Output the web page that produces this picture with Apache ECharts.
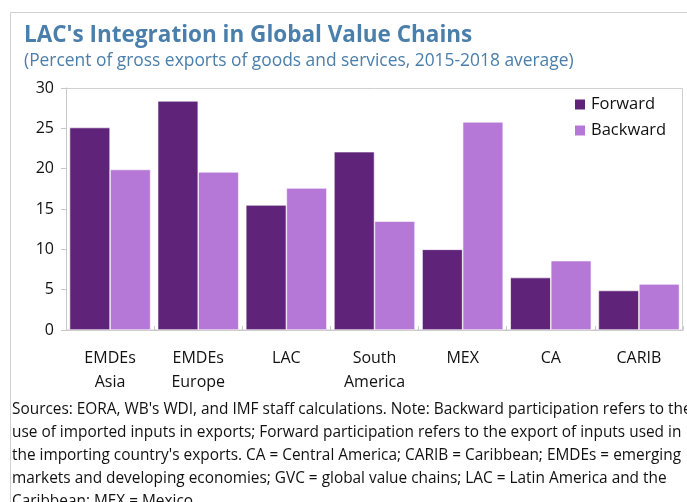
<!DOCTYPE html>
<html>
<head>
<meta charset="utf-8">
<script src="https://cdn.jsdelivr.net/npm/echarts@6/dist/echarts.min.js"></script>
<style>
html,body{margin:0;padding:0;background:#fff;}
#chart{width:687px;height:502px;}
</style>
</head>
<body>
<div id="chart"></div>
<script>
var categories = ['EMDEs\nAsia', 'EMDEs\nEurope', 'LAC', 'South\nAmerica', 'MEX', 'CA', 'CARIB'];
var forward = [25.1, 28.4, 15.5, 22.1, 10.0, 6.5, 4.9];
var backward = [19.9, 19.6, 17.6, 13.5, 25.8, 8.6, 5.7];
var yTicks = [0, 5, 10, 15, 20, 25, 30];
var titleText = "LAC's Integration in Global Value Chains";
var subtitleText = "(Percent of gross exports of goods and services, 2015-2018 average)";
var noteLines = [
  "Sources: EORA, WB's WDI, and IMF staff calculations. Note: Backward participation refers to the",
  "use of imported inputs in exports; Forward participation refers to the export of inputs used in",
  "the importing country's exports. CA = Central America; CARIB = Caribbean; EMDEs = emerging",
  "markets and developing economies; GVC = global value chains; LAC = Latin America and the",
  "Caribbean; MEX = Mexico."
];

var FONT = '"Open Sans", sans-serif';
var chart = echarts.init(document.getElementById('chart'), null, {renderer: 'canvas'});

var graphics = [
  {type: 'rect', shape: {x: 10.5, y: 12.5, width: 700, height: 520}, style: {fill: 'none', stroke: '#d0d0d0', lineWidth: 1}, silent: true},
  {type: 'rect', shape: {x: 66.5, y: 88.5, width: 616, height: 241.5}, style: {fill: 'none', stroke: '#d0d0d0', lineWidth: 1}, silent: true, z: 0}
];
noteLines.forEach(function (t, i) {
  graphics.push({
    type: 'text', left: 12, top: 402 + i * 23,
    style: {text: t, font: '15.4px ' + FONT, fill: '#111'}
  });
});

chart.setOption({
  animation: false,
  backgroundColor: '#fff',
  title: [
    {text: titleText, left: 19, top: 19, textStyle: {fontFamily: FONT, fontSize: 22.5, fontWeight: 'bold', color: '#4a7eab'}},
    {text: subtitleText, left: 19, top: 48, textStyle: {fontFamily: FONT, fontSize: 17.4, fontWeight: 'normal', color: '#4a7eab'}}
  ],
  legend: {
    data: ['Forward', 'Backward'],
    orient: 'vertical',
    left: 568, top: 91,
    itemWidth: 12, itemHeight: 12, itemGap: 9,
    icon: 'rect',
    textStyle: {fontFamily: FONT, fontSize: 16.5, color: '#111'}
  },
  grid: {left: 66, top: 88, right: 4, bottom: 172, containLabel: false},
  xAxis: {
    type: 'category',
    data: categories,
    axisLine: {show: true, lineStyle: {color: '#c8c8c8'}},
    axisTick: {show: true, inside: true, length: 4, lineStyle: {color: '#c8c8c8'}},
    axisLabel: {fontFamily: FONT, fontSize: 16, color: '#111', margin: 17, lineHeight: 23.5}
  },
  yAxis: {
    type: 'value', min: 0, max: 30, interval: 5,
    axisLine: {show: true, lineStyle: {color: '#c8c8c8'}},
    axisTick: {show: true, length: 5, lineStyle: {color: '#c8c8c8'}},
    splitLine: {show: false},
    axisLabel: {fontFamily: FONT, fontSize: 16, color: '#111', margin: 12,
      formatter: function (v) { return yTicks.indexOf(v) >= 0 ? String(v) : ''; }}
  },
  series: [
    {name: 'Forward', type: 'bar', data: forward, barGap: '0%', barCategoryGap: '8%',
      itemStyle: {color: '#5f247a', borderColor: '#ffffff', borderWidth: 0.6}},
    {name: 'Backward', type: 'bar', data: backward, barGap: '0%', barCategoryGap: '8%',
      itemStyle: {color: '#b678d6', borderColor: '#ffffff', borderWidth: 0.6}}
  ],
  graphic: graphics
});
</script>
</body>
</html>
